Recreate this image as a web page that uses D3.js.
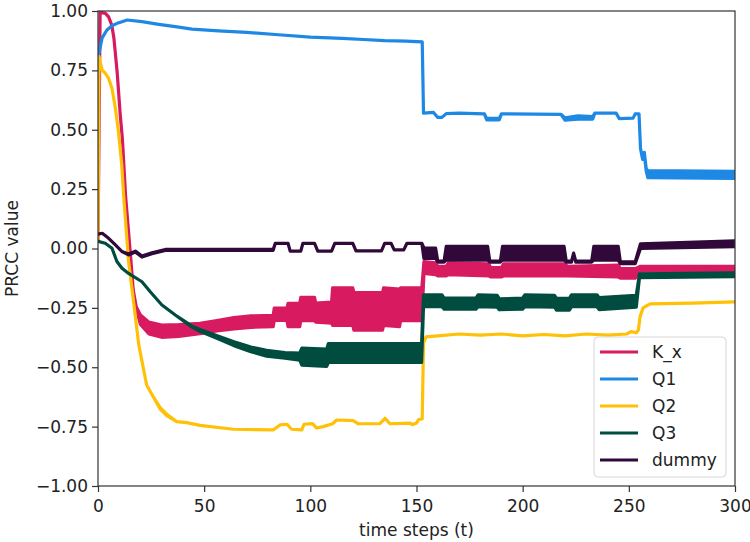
<!DOCTYPE html>
<html>
<head>
<meta charset="utf-8">
<script src="https://cdn.jsdelivr.net/npm/d3@7"></script>
<style>
  body { margin: 0; background: #fff; }
  text { font-family: "DejaVu Sans", sans-serif; fill: #222; }
</style>
</head>
<body>
<div id="chart"></div>
<script>
/* DATA: [time step, PRCC value, half width of the oscillation band] */
const seriesNames = ["K_x", "Q1", "Q2", "Q3", "dummy"];
const xTicks = [0, 50, 100, 150, 200, 250, 300];
const yTicks = [-1, -0.75, -0.5, -0.25, 0, 0.25, 0.5, 0.75, 1];

const kx = [
  [0, 0.03, 0], [1, 0.995, 0], [3.5, 0.99, 0], [5, 0.975, 0], [6.5, 0.94, 0],
  [7.5, 0.885, 0], [9, 0.745, 0], [10.5, 0.56, 0], [11.5, 0.46, 0], [13, 0.22, 0],
  [15.5, -0.05, 0], [16.6, -0.175, 0], [18, -0.25, 0.005], [20, -0.3, 0.02],
  [24, -0.335, 0.025], [30, -0.348, 0.026], [38, -0.345, 0.025], [48, -0.337, 0.022],
  [56, -0.325, 0.022], [64, -0.315, 0.024], [72, -0.308, 0.024], [82.5, -0.305, 0.024],
  [83, -0.277, 0.026], [89, -0.277, 0.026], [89.5, -0.28, 0.049], [95, -0.28, 0.049],
  [95.5, -0.255, 0.049], [102, -0.255, 0.049], [102.5, -0.27, 0.04], [110, -0.27, 0.044],
  [110.5, -0.245, 0.079], [120, -0.245, 0.079], [120.5, -0.265, 0.079], [134, -0.265, 0.079],
  [134.5, -0.245, 0.079], [142, -0.25, 0.079], [142.5, -0.235, 0.069], [152.5, -0.235, 0.069],
  [153.5, -0.08, 0.025], [159, -0.085, 0.025], [160, -0.095, 0.02], [164, -0.095, 0.02],
  [165, -0.085, 0.025], [184, -0.09, 0.025], [185, -0.1, 0.02], [190, -0.1, 0.02],
  [191, -0.09, 0.025], [220, -0.09, 0.025], [221, -0.095, 0.02], [245, -0.095, 0.025],
  [246, -0.105, 0.02], [253, -0.105, 0.02], [255.5, -0.085, 0.01], [300, -0.085, 0.01]
];

const q1 = [
  [0, 0.8, 0], [0.3, 0.815, 0], [1.9, 0.886, 0], [4.2, 0.92, 0], [6.6, 0.938, 0],
  [9, 0.948, 0], [11.3, 0.955, 0], [13.7, 0.962, 0], [20.7, 0.955, 0], [28.6, 0.944, 0],
  [36.4, 0.934, 0], [44.3, 0.924, 0], [56.8, 0.916, 0], [70, 0.91, 0], [85, 0.9, 0],
  [100, 0.89, 0], [115, 0.885, 0], [125, 0.88, 0], [135, 0.875, 0], [145, 0.873, 0],
  [152.7, 0.87, 0], [153.3, 0.57, 0], [158, 0.573, 0], [160, 0.552, 0], [162, 0.552, 0],
  [164, 0.568, 0], [170, 0.57, 0], [182, 0.567, 0], [183, 0.545, 0.003], [189, 0.545, 0.003],
  [190, 0.567, 0], [218, 0.565, 0], [220, 0.545, 0.005], [226, 0.552, 0.007], [233, 0.55, 0.005],
  [234, 0.57, 0], [244, 0.57, 0], [245.5, 0.547, 0], [252, 0.549, 0], [253, 0.567, 0],
  [254.8, 0.567, 0], [255.5, 0.42, 0], [256.5, 0.38, 0.005], [257.3, 0.4, 0.005],
  [258.2, 0.33, 0.005], [259, 0.313, 0.015], [300, 0.31, 0.015]
];

const q2 = [
  [0, 0.04, 0], [0.5, 0.808, 0], [1.9, 0.752, 0], [3.4, 0.738, 0], [5, 0.716, 0],
  [6.6, 0.674, 0], [8.2, 0.59, 0], [9.7, 0.486, 0], [11.2, 0.35, 0], [12.1, 0.22, 0],
  [14.4, -0.055, 0], [16.7, -0.22, 0], [19.2, -0.406, 0], [20.6, -0.47, 0], [22.9, -0.575, 0],
  [26, -0.624, 0], [29.2, -0.672, 0.003], [32.4, -0.701, 0.003], [37, -0.729, 0],
  [41.8, -0.733, 0], [48, -0.745, 0], [63.7, -0.761, 0], [82.5, -0.764, 0], [85.7, -0.743, 0],
  [89, -0.74, 0], [91.2, -0.761, 0], [96, -0.764, 0], [97, -0.74, 0], [101, -0.737, 0],
  [103, -0.756, 0], [106, -0.75, 0], [110.5, -0.738, 0], [112.4, -0.722, 0], [120.2, -0.725, 0],
  [122.6, -0.738, 0], [132.8, -0.737, 0], [135.2, -0.715, 0], [137.5, -0.738, 0],
  [147, -0.735, 0], [148, -0.742, 0], [150, -0.735, 0], [151, -0.72, 0], [152.7, -0.718, 0],
  [153.3, -0.398, 0], [154.5, -0.372, 0], [160, -0.368, 0], [170, -0.36, 0], [180, -0.365, 0],
  [190, -0.36, 0], [200, -0.368, 0], [210, -0.362, 0], [220, -0.368, 0], [230, -0.36, 0],
  [240, -0.365, 0], [249, -0.36, 0], [251, -0.35, 0], [253.5, -0.355, 0], [254.5, -0.343, 0],
  [255.3, -0.287, 0], [256.7, -0.25, 0], [260, -0.233, 0], [280, -0.23, 0], [300, -0.225, 0]
];

const q3 = [
  [0, 0.03, 0], [3.4, 0.022, 0], [6.6, 0.001, 0], [8.9, -0.055, 0], [11.3, -0.083, 0],
  [14.4, -0.105, 0], [20.7, -0.14, 0], [24.6, -0.182, 0], [30.1, -0.238, 0], [36.4, -0.28, 0],
  [44.3, -0.329, 0.002], [48, -0.345, 0.004], [56.8, -0.375, 0.006], [63.7, -0.4, 0.008],
  [72, -0.425, 0.01], [79.4, -0.441, 0.012], [88, -0.45, 0.012], [95, -0.455, 0.015],
  [96, -0.455, 0.036], [107.7, -0.46, 0.036], [108.5, -0.44, 0.04], [152.4, -0.44, 0.04],
  [153.3, -0.22, 0.025], [162, -0.22, 0.025], [163, -0.232, 0.023], [178, -0.232, 0.023],
  [179, -0.22, 0.025], [188, -0.222, 0.025], [189, -0.235, 0.023], [200, -0.232, 0.023],
  [201, -0.22, 0.025], [215, -0.222, 0.025], [216, -0.235, 0.025], [222, -0.235, 0.025],
  [223, -0.22, 0.025], [235, -0.22, 0.025], [236, -0.232, 0.025], [253.5, -0.222, 0.025],
  [255, -0.115, 0.008], [300, -0.11, 0.008]
];

const dummy = [
  [0, 0.06, 0], [2, 0.064, 0], [5, 0.043, 0], [8.2, 0.015, 0], [11.3, -0.013, 0],
  [14.4, -0.025, 0.002], [17.6, -0.013, 0.002], [20.7, -0.034, 0.002], [25.4, -0.02, 0.002],
  [31.7, -0.006, 0.002], [82.5, -0.006, 0.002], [83.5, 0.022, 0], [89.5, 0.022, 0],
  [90.5, -0.011, 0], [95.5, -0.011, 0], [96.5, 0.022, 0], [102, 0.022, 0], [103.5, -0.011, 0],
  [110, -0.011, 0], [111.5, 0.022, 0], [120, 0.022, 0], [121.5, -0.01, 0], [133.5, -0.01, 0],
  [135, 0.022, 0], [138, 0.022, 0], [139.5, -0.006, 0], [144, -0.006, 0], [145.5, 0.022, 0],
  [152.5, 0.022, 0], [153.5, -0.02, 0.022], [159, -0.02, 0.022], [160, -0.055, 0.002],
  [163, -0.055, 0.002], [164, -0.02, 0.029], [183.5, -0.02, 0.029], [184.5, -0.055, 0.002],
  [189.5, -0.055, 0.002], [190.5, -0.02, 0.029], [219.5, -0.02, 0.029], [220.5, -0.055, 0.002],
  [223, -0.055, 0.002], [224, -0.02, 0], [225, -0.055, 0.002], [232.5, -0.055, 0.002],
  [233.5, -0.02, 0.029], [245, -0.02, 0.029], [246, -0.06, 0.004], [253, -0.06, 0.004],
  [255.5, 0.01, 0.01], [300, 0.02, 0.012]
];

const seriesData = [kx, q1, q2, q3, dummy];
const colors = ["#D81B60", "#1E88E5", "#FFC107", "#004D40", "#30093A"];

/* CONSTANTS AND GLOBALS */
const width = 750;
const height = 542;
const margin = { top: 11, right: 15, bottom: 56, left: 98 };

const svg = d3.select("#chart")
  .append("svg")
  .attr("width", width)
  .attr("height", height)
  .style("background-color", "#ffffff");

/* SCALES */
const xScale = d3.scaleLinear()
  .domain([0, 300])
  .range([margin.left, width - margin.right]);

const yScale = d3.scaleLinear()
  .domain([-1, 1])
  .range([height - margin.bottom, margin.top]);

svg.append("clipPath")
  .attr("id", "plot-clip")
  .append("rect")
  .attr("x", margin.left)
  .attr("y", margin.top)
  .attr("width", width - margin.left - margin.right)
  .attr("height", height - margin.top - margin.bottom);

/* LINES (band = oscillation range, stroked so a zero band is a plain line) */
const band = d3.area()
  .x(d => xScale(d[0]))
  .y0(d => yScale(d[1] - d[2]))
  .y1(d => yScale(d[1] + d[2]));

svg.append("g")
  .attr("clip-path", "url(#plot-clip)")
  .selectAll("path")
  .data(seriesData)
  .join("path")
  .attr("d", band)
  .attr("fill", (d, i) => colors[i])
  .attr("stroke", (d, i) => colors[i])
  .attr("stroke-width", 3.2)
  .attr("stroke-linejoin", "round");

/* AXES */
const xAxis = svg.append("g")
  .attr("transform", `translate(0,${height - margin.bottom})`)
  .call(d3.axisBottom(xScale).tickValues(xTicks).tickSize(6).tickPadding(8));

const yAxis = svg.append("g")
  .attr("transform", `translate(${margin.left},0)`)
  .call(d3.axisLeft(yScale).tickValues(yTicks).tickFormat(d3.format(".2f")).tickSize(6).tickPadding(4));

[xAxis, yAxis].forEach(ax => {
  ax.select(".domain").remove();
  ax.selectAll("line").attr("stroke", "#333").attr("stroke-width", 1.2);
  ax.selectAll("text").style("font-size", "17px").attr("fill", "#222");
});

// frame
svg.append("rect")
  .attr("x", margin.left)
  .attr("y", margin.top)
  .attr("width", width - margin.left - margin.right)
  .attr("height", height - margin.top - margin.bottom)
  .attr("fill", "none")
  .attr("stroke", "#333")
  .attr("stroke-width", 1.2);

// axis titles
svg.append("text")
  .attr("x", (margin.left + width - margin.right) / 2)
  .attr("y", 536)
  .style("text-anchor", "middle")
  .style("font-size", "17px")
  .text("time steps (t)");

svg.append("text")
  .attr("transform", "rotate(-90)")
  .attr("x", -yScale(0))
  .attr("y", 18)
  .style("text-anchor", "middle")
  .style("font-size", "17px")
  .text("PRCC value");

/* LEGEND */
const legend = svg.append("g").attr("transform", "translate(594,337)");

legend.append("rect")
  .attr("width", 132)
  .attr("height", 140)
  .attr("rx", 4)
  .attr("fill", "#fff")
  .attr("fill-opacity", 0.8)
  .attr("stroke", "#d6d6d6");

const item = legend.selectAll(".item")
  .data(seriesNames)
  .join("g")
  .attr("class", "item")
  .attr("transform", (d, i) => `translate(0,${15 + i * 27})`);

item.append("line")
  .attr("x1", 6)
  .attr("x2", 44)
  .attr("stroke", (d, i) => colors[i])
  .attr("stroke-width", 3);

item.append("text")
  .attr("x", 58)
  .attr("dy", "0.35em")
  .style("font-size", "17px")
  .text(d => d);
</script>
</body>
</html>
